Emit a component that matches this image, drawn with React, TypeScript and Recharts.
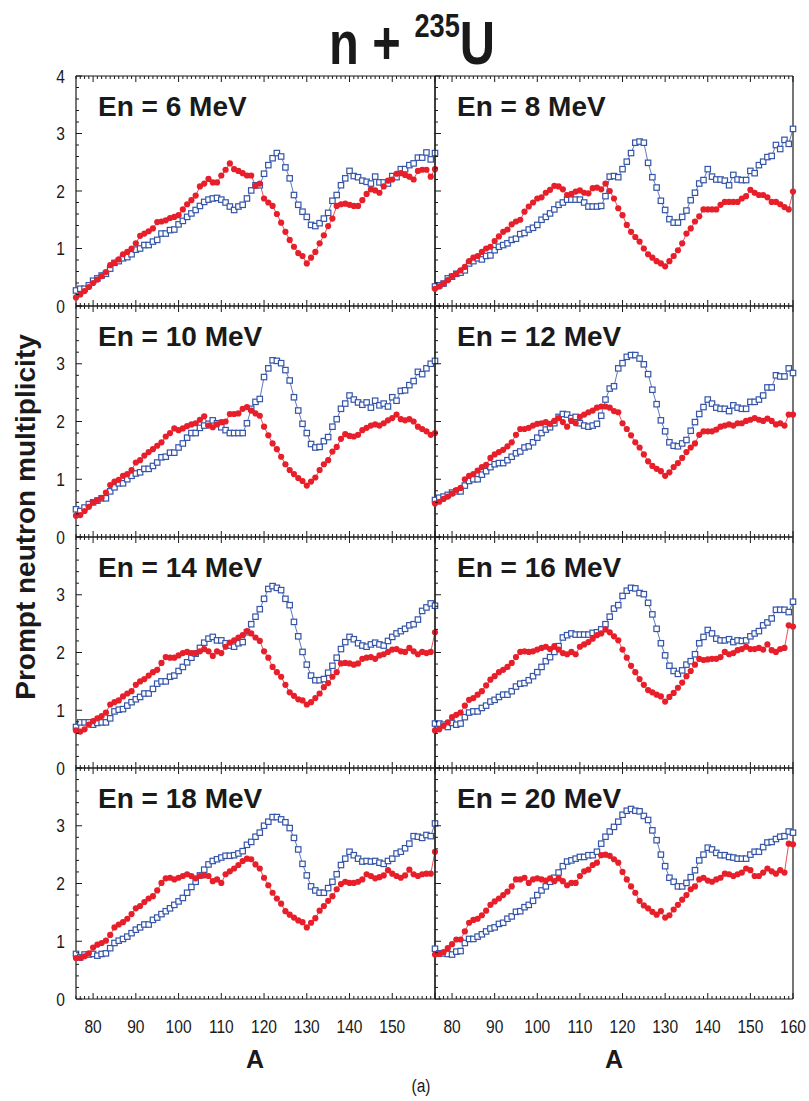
import React from 'react'
import { LineChart, Line, XAxis, YAxis } from 'recharts'

// mass number A, one point per nucleus
const massA = [
  76, 77, 78, 79, 80, 81, 82, 83, 84, 85, 86, 87, 88, 89, 90, 91, 92, 93, 94, 95,
  96, 97, 98, 99, 100, 101, 102, 103, 104, 105, 106, 107, 108, 109, 110, 111, 112, 113, 114, 115,
  116, 117, 118, 119, 120, 121, 122, 123, 124, 125, 126, 127, 128, 129, 130, 131, 132, 133, 134, 135,
  136, 137, 138, 139, 140, 141, 142, 143, 144, 145, 146, 147, 148, 149, 150, 151, 152, 153, 154, 155,
  156, 157, 158, 159, 160,
]

const red6 = [
  0.15, 0.2, 0.26, 0.33, 0.4, 0.46, 0.52, 0.59, 0.71, 0.75, 0.81, 0.9, 0.94, 1.0, 1.09, 1.22, 1.26, 1.3, 1.35, 1.46,
  1.47, 1.49, 1.53, 1.55, 1.58, 1.68, 1.77, 1.84, 1.92, 2.08, 2.13, 2.21, 2.15, 2.15, 2.27, 2.37, 2.48, 2.38, 2.35, 2.31,
  2.27, 2.27, 2.09, 2.13, 1.87, 1.8, 1.74, 1.6, 1.45, 1.29, 1.15, 1.03, 0.92, 0.87, 0.74, 0.84, 0.94, 1.09, 1.23, 1.39,
  1.52, 1.74, 1.77, 1.78, 1.76, 1.74, 1.74, 1.84, 1.95, 2.03, 2.01, 1.97, 2.08, 2.18, 2.2, 2.3, 2.31, 2.28, 2.25, 2.2,
  2.35, 2.37, 2.37, 2.25, 2.38,
]
const blue6 = [
  0.27, 0.3, 0.3, 0.36, 0.44, 0.48, 0.53, 0.56, 0.65, 0.75, 0.78, 0.83, 0.85, 0.9, 0.98, 1.0, 1.06, 1.06, 1.12, 1.15,
  1.26, 1.26, 1.32, 1.33, 1.42, 1.48, 1.55, 1.61, 1.67, 1.74, 1.81, 1.85, 1.87, 1.88, 1.85, 1.8, 1.73, 1.67, 1.73, 1.76,
  1.87, 2.01, 2.1, 2.1, 2.3, 2.45, 2.57, 2.66, 2.6, 2.41, 2.22, 1.93, 1.76, 1.64, 1.55, 1.41, 1.39, 1.44, 1.52, 1.62,
  1.83, 1.93, 2.1, 2.22, 2.35, 2.26, 2.24, 2.18, 2.16, 2.13, 2.25, 2.15, 2.15, 2.13, 2.26, 2.24, 2.38, 2.38, 2.45, 2.48,
  2.58, 2.58, 2.67, 2.55, 2.66,
]
const red8 = [
  0.3, 0.34, 0.39, 0.45, 0.52, 0.56, 0.62, 0.68, 0.78, 0.84, 0.87, 0.94, 1.0, 1.03, 1.13, 1.21, 1.29, 1.33, 1.42, 1.47,
  1.5, 1.64, 1.73, 1.8, 1.87, 1.89, 1.97, 2.02, 2.09, 2.08, 2.03, 1.93, 1.95, 1.99, 2.01, 1.97, 1.96, 2.05, 2.06, 2.03,
  2.13, 2.0, 1.87, 1.7, 1.58, 1.41, 1.29, 1.2, 1.12, 1.0, 0.9, 0.84, 0.78, 0.74, 0.69, 0.78, 0.87, 0.97, 1.09, 1.26,
  1.35, 1.47, 1.56, 1.68, 1.68, 1.68, 1.68, 1.76, 1.81, 1.81, 1.81, 1.81, 1.87, 1.91, 2.02, 1.97, 1.93, 1.93, 1.89, 1.81,
  1.81, 1.77, 1.72, 1.68, 1.99,
]
const blue8 = [
  0.34, 0.36, 0.39, 0.48, 0.51, 0.56, 0.58, 0.62, 0.74, 0.78, 0.83, 0.81, 0.87, 0.88, 0.97, 1.03, 1.06, 1.09, 1.15, 1.17,
  1.25, 1.27, 1.33, 1.36, 1.41, 1.5, 1.55, 1.61, 1.68, 1.76, 1.8, 1.85, 1.85, 1.85, 1.85, 1.8, 1.73, 1.73, 1.73, 1.74,
  1.91, 2.25, 2.26, 2.24, 2.38, 2.51, 2.66, 2.84, 2.86, 2.84, 2.49, 2.24, 2.06, 1.83, 1.67, 1.51, 1.45, 1.45, 1.55, 1.66,
  1.84, 1.97, 2.13, 2.19, 2.38, 2.25, 2.2, 2.2, 2.18, 2.1, 2.28, 2.2, 2.19, 2.19, 2.35, 2.31, 2.45, 2.51, 2.59, 2.61,
  2.8, 2.73, 2.89, 2.82, 3.08,
]
const red10 = [
  0.37, 0.38, 0.45, 0.52, 0.6, 0.64, 0.68, 0.77, 0.9, 0.96, 0.99, 1.06, 1.09, 1.16, 1.29, 1.33, 1.41, 1.47, 1.52, 1.58,
  1.64, 1.74, 1.8, 1.88, 1.85, 1.88, 1.92, 1.95, 1.97, 2.03, 2.09, 1.93, 1.9, 1.95, 1.99, 2.0, 2.13, 2.13, 2.14, 2.22,
  2.25, 2.19, 2.14, 2.1, 1.91, 1.76, 1.62, 1.52, 1.39, 1.26, 1.16, 1.09, 1.02, 0.97, 0.89, 0.96, 1.03, 1.16, 1.26, 1.33,
  1.48, 1.56, 1.7, 1.78, 1.75, 1.74, 1.77, 1.85, 1.89, 1.93, 1.95, 1.93, 1.97, 2.02, 2.06, 2.12, 2.04, 2.02, 2.04, 2.0,
  1.91, 1.87, 1.83, 1.77, 1.8,
]
const blue10 = [
  0.48, 0.45, 0.51, 0.57, 0.6, 0.63, 0.67, 0.67, 0.79, 0.86, 0.93, 0.93, 1.0, 1.06, 1.1, 1.12, 1.18, 1.18, 1.23, 1.29,
  1.38, 1.39, 1.46, 1.46, 1.55, 1.62, 1.72, 1.8, 1.8, 1.89, 1.93, 1.96, 2.02, 1.97, 1.9, 1.85, 1.8, 1.8, 1.8, 1.8,
  1.97, 2.22, 2.34, 2.39, 2.77, 2.92, 3.06, 3.05, 3.01, 2.89, 2.71, 2.42, 2.19, 1.96, 1.8, 1.61, 1.55, 1.56, 1.66, 1.73,
  1.91, 2.04, 2.22, 2.31, 2.45, 2.38, 2.33, 2.29, 2.33, 2.24, 2.36, 2.28, 2.31, 2.26, 2.42, 2.36, 2.53, 2.54, 2.63, 2.7,
  2.86, 2.82, 2.92, 3.0, 3.05,
]
const red12 = [
  0.58, 0.61, 0.66, 0.7, 0.75, 0.81, 0.85, 1.0, 1.06, 1.09, 1.15, 1.21, 1.25, 1.37, 1.43, 1.47, 1.51, 1.57, 1.64, 1.77,
  1.87, 1.87, 1.89, 1.93, 1.96, 1.97, 1.99, 1.96, 2.01, 2.06, 1.99, 1.91, 2.01, 1.97, 2.08, 2.12, 2.16, 2.19, 2.24, 2.26,
  2.26, 2.24, 2.18, 2.16, 1.97, 1.87, 1.76, 1.64, 1.55, 1.43, 1.31, 1.23, 1.18, 1.14, 1.06, 1.12, 1.21, 1.28, 1.37, 1.47,
  1.55, 1.62, 1.77, 1.83, 1.83, 1.83, 1.86, 1.91, 1.93, 1.95, 1.93, 1.97, 1.97, 2.01, 2.03, 2.06, 2.03, 2.01, 2.05, 2.01,
  1.95, 1.97, 1.93, 2.12, 2.12,
]
const blue12 = [
  0.64, 0.68, 0.7, 0.73, 0.77, 0.79, 0.79, 0.89, 0.97, 1.0, 1.0, 1.08, 1.14, 1.21, 1.26, 1.28, 1.28, 1.33, 1.39, 1.45,
  1.48, 1.55, 1.57, 1.64, 1.72, 1.8, 1.86, 1.9, 1.97, 2.08, 2.13, 2.12, 2.06, 2.08, 1.97, 1.93, 1.91, 1.93, 1.96, 2.1,
  2.38, 2.57, 2.61, 2.92, 3.01, 3.12, 3.15, 3.15, 3.09, 2.99, 2.82, 2.55, 2.3, 2.02, 1.83, 1.64, 1.58, 1.57, 1.62, 1.68,
  1.84, 1.99, 2.13, 2.25, 2.38, 2.31, 2.24, 2.22, 2.22, 2.18, 2.28, 2.24, 2.22, 2.22, 2.34, 2.34, 2.38, 2.45, 2.59, 2.59,
  2.8, 2.78, 2.78, 2.92, 2.84,
]
const red14 = [
  0.65, 0.63, 0.67, 0.75, 0.81, 0.86, 0.9, 0.96, 1.1, 1.14, 1.17, 1.24, 1.29, 1.33, 1.44, 1.5, 1.54, 1.6, 1.66, 1.7,
  1.82, 1.92, 1.91, 1.91, 1.95, 1.99, 2.01, 1.99, 1.99, 2.02, 2.06, 2.02, 1.94, 2.02, 1.99, 2.1, 2.17, 2.21, 2.26, 2.3,
  2.37, 2.33, 2.26, 2.2, 2.02, 1.91, 1.75, 1.66, 1.58, 1.44, 1.31, 1.25, 1.19, 1.17, 1.1, 1.14, 1.21, 1.29, 1.4, 1.47,
  1.58, 1.66, 1.81, 1.82, 1.81, 1.79, 1.81, 1.89, 1.91, 1.92, 1.89, 1.95, 1.97, 2.01, 2.05, 2.06, 2.02, 2.01, 2.08, 2.02,
  1.97, 2.01, 1.99, 2.01, 2.35,
]
const blue14 = [
  0.71, 0.79, 0.79, 0.79, 0.75, 0.78, 0.79, 0.79, 0.86, 0.98, 1.01, 1.02, 1.08, 1.14, 1.19, 1.23, 1.29, 1.29, 1.37, 1.46,
  1.5, 1.5, 1.58, 1.6, 1.68, 1.75, 1.83, 1.91, 1.98, 2.08, 2.17, 2.24, 2.27, 2.21, 2.21, 2.16, 2.12, 2.1, 2.16, 2.18,
  2.35, 2.49, 2.62, 2.75, 2.93, 3.1, 3.15, 3.12, 3.08, 2.93, 2.82, 2.53, 2.28, 2.01, 1.79, 1.6, 1.52, 1.52, 1.54, 1.65,
  1.77, 1.91, 2.06, 2.18, 2.27, 2.23, 2.16, 2.12, 2.1, 2.14, 2.17, 2.14, 2.12, 2.2, 2.27, 2.33, 2.37, 2.41, 2.47, 2.49,
  2.57, 2.72, 2.78, 2.85, 2.81,
]
const red16 = [
  0.65, 0.67, 0.73, 0.79, 0.88, 0.92, 0.96, 1.08, 1.18, 1.21, 1.27, 1.33, 1.43, 1.53, 1.59, 1.66, 1.7, 1.75, 1.82, 1.92,
  2.01, 2.02, 2.01, 2.02, 2.05, 2.08, 2.1, 2.06, 2.11, 2.05, 1.99, 1.97, 2.01, 1.97, 2.1, 2.14, 2.18, 2.24, 2.3, 2.33,
  2.4, 2.35, 2.28, 2.21, 2.05, 1.91, 1.77, 1.66, 1.54, 1.44, 1.35, 1.31, 1.27, 1.24, 1.15, 1.23, 1.3, 1.39, 1.48, 1.59,
  1.68, 1.79, 1.89, 1.87, 1.88, 1.89, 1.89, 1.92, 2.01, 1.97, 1.99, 2.04, 2.06, 2.1, 2.06, 2.06, 2.08, 2.05, 2.14, 2.04,
  2.01, 2.06, 2.08, 2.47, 2.45,
]
const blue16 = [
  0.77, 0.77, 0.75, 0.71, 0.78, 0.75, 0.77, 0.88, 0.96, 0.98, 0.98, 1.04, 1.08, 1.15, 1.18, 1.23, 1.27, 1.27, 1.33, 1.41,
  1.46, 1.47, 1.52, 1.59, 1.66, 1.75, 1.85, 1.92, 2.01, 2.11, 2.26, 2.3, 2.33, 2.31, 2.31, 2.31, 2.31, 2.34, 2.35, 2.4,
  2.49, 2.62, 2.76, 2.82, 2.98, 3.07, 3.12, 3.11, 3.03, 3.01, 2.86, 2.66, 2.41, 2.16, 1.95, 1.77, 1.68, 1.63, 1.69, 1.79,
  1.85, 1.97, 2.16, 2.27, 2.39, 2.33, 2.24, 2.21, 2.21, 2.23, 2.18, 2.21, 2.2, 2.21, 2.28, 2.33, 2.37, 2.47, 2.52, 2.59,
  2.74, 2.74, 2.74, 2.7, 2.88,
]
const red18 = [
  0.71, 0.71, 0.74, 0.79, 0.89, 0.94, 0.97, 1.01, 1.11, 1.24, 1.29, 1.33, 1.39, 1.47, 1.57, 1.61, 1.68, 1.74, 1.78, 1.88,
  2.01, 2.09, 2.1, 2.07, 2.1, 2.13, 2.16, 2.13, 2.09, 2.13, 2.14, 2.13, 2.04, 2.07, 2.01, 2.16, 2.21, 2.26, 2.32, 2.39,
  2.43, 2.42, 2.33, 2.26, 2.1, 1.97, 1.84, 1.74, 1.65, 1.52, 1.46, 1.41, 1.36, 1.33, 1.24, 1.32, 1.4, 1.53, 1.61, 1.7,
  1.78, 1.9, 1.99, 2.03, 2.01, 2.01, 2.03, 2.07, 2.16, 2.13, 2.09, 2.11, 2.14, 2.23, 2.17, 2.13, 2.1, 2.14, 2.24, 2.16,
  2.13, 2.16, 2.17, 2.17, 2.55,
]
const blue18 = [
  0.78, 0.72, 0.77, 0.77, 0.78, 0.75, 0.78, 0.79, 0.88, 0.97, 1.01, 1.04, 1.08, 1.14, 1.2, 1.24, 1.29, 1.29, 1.37, 1.41,
  1.47, 1.52, 1.57, 1.63, 1.69, 1.75, 1.84, 1.94, 2.03, 2.14, 2.24, 2.33, 2.39, 2.42, 2.45, 2.48, 2.48, 2.49, 2.52, 2.56,
  2.67, 2.72, 2.81, 2.88, 3.0, 3.07, 3.15, 3.15, 3.11, 3.06, 2.96, 2.79, 2.59, 2.34, 2.14, 1.95, 1.88, 1.84, 1.84, 1.92,
  2.03, 2.16, 2.32, 2.43, 2.55, 2.49, 2.43, 2.38, 2.39, 2.38, 2.39, 2.36, 2.34, 2.39, 2.43, 2.52, 2.55, 2.61, 2.69, 2.82,
  2.81, 2.79, 2.84, 2.82, 3.04,
]
const red20 = [
  0.77, 0.78, 0.81, 0.88, 0.95, 1.03, 1.03, 1.17, 1.32, 1.37, 1.39, 1.45, 1.53, 1.63, 1.69, 1.74, 1.8, 1.86, 1.95, 2.07,
  2.07, 2.1, 2.01, 2.07, 2.09, 2.07, 2.05, 2.09, 2.04, 2.09, 2.04, 1.97, 2.01, 2.01, 2.13, 2.21, 2.24, 2.32, 2.36, 2.49,
  2.5, 2.48, 2.42, 2.36, 2.2, 2.07, 1.95, 1.84, 1.7, 1.62, 1.57, 1.51, 1.46, 1.52, 1.41, 1.45, 1.55, 1.63, 1.72, 1.8,
  1.9, 1.95, 2.07, 2.1, 2.05, 2.03, 2.07, 2.1, 2.17, 2.16, 2.13, 2.16, 2.19, 2.26, 2.23, 2.13, 2.13, 2.19, 2.26, 2.21,
  2.17, 2.23, 2.19, 2.69, 2.68,
]
const blue20 = [
  0.87, 0.79, 0.79, 0.78, 0.77, 0.82, 0.83, 0.97, 1.04, 1.04, 1.08, 1.12, 1.17, 1.22, 1.24, 1.3, 1.32, 1.39, 1.43, 1.51,
  1.52, 1.59, 1.63, 1.7, 1.8, 1.88, 1.95, 2.03, 2.1, 2.19, 2.3, 2.38, 2.4, 2.43, 2.46, 2.46, 2.49, 2.49, 2.55, 2.69,
  2.81, 2.9, 2.98, 3.07, 3.19, 3.26, 3.29, 3.26, 3.25, 3.17, 3.1, 2.92, 2.75, 2.5, 2.3, 2.1, 2.03, 1.95, 1.95, 2.01,
  2.11, 2.23, 2.4, 2.5, 2.62, 2.59, 2.53, 2.49, 2.49, 2.46, 2.45, 2.43, 2.43, 2.43, 2.5, 2.55, 2.55, 2.63, 2.71, 2.72,
  2.77, 2.81, 2.82, 2.9, 2.88,
]

const energies = ['6', '8', '10', '12', '14', '16', '18', '20']
const redSeries = [red6, red8, red10, red12, red14, red16, red18, red20]
const blueSeries = [blue6, blue8, blue10, blue12, blue14, blue16, blue18, blue20]

const xLabelsLeft = [80, 90, 100, 110, 120, 130, 140, 150]
const xLabelsRight = [80, 90, 100, 110, 120, 130, 140, 150, 160]
const yLabelsTop = [0, 1, 2, 3, 4]
const yLabelsOther = [0, 1, 2, 3]

const BLUE = '#3354a8'
const RED = '#e61f2a'
const INK = '#1a1a1a'
const SANS = "'Liberation Sans', Arial, Helvetica, sans-serif"
const NARROW_SCALE = 0.82

// panel geometry (plot area in page pixels)
const colX = [76, 435]
const colW = [359, 358]
const rowY = [76, 306, 537, 768]
const rowH = [230, 231, 231, 231]

const xTickPos: number[] = []
for (let a = 76; a <= 160; a++) xTickPos.push(a)
const yTickPos: number[] = []
for (let i = 0; i <= 20; i++) yTickPos.push(i / 5)

const isMajorY = (v: number) => Math.abs(v - Math.round(v)) < 1e-6

// narrow (Arial Narrow-like) label: regular sans squeezed horizontally
function NarrowText({ x, y, anchor, size, children }: any) {
  return (
    <text
      transform={`translate(${x},${y}) scale(${NARROW_SCALE},1)`}
      textAnchor={anchor}
      fontFamily={SANS}
      fontSize={size}
      fill={INK}
    >
      {children}
    </text>
  )
}

function Panel({ idx }: { idx: number }) {
  const row = Math.floor(idx / 2)
  const col = idx % 2
  // axes are 1px thick, so margins are 1px less than the wanted gap
  const ml = col === 0 ? 49 : 7
  const mr = col === 1 ? 15 : 7
  const mt = 14
  const mb = row === 3 ? 44 : 14
  const w = colW[col] + ml + mr + 2
  const h = rowH[row] + mt + mb + 2
  const data = massA.map((a, i) => ({ A: a, red: redSeries[idx][i], blue: blueSeries[idx][i] }))
  const xLabels = row === 3 ? (col === 0 ? xLabelsLeft : xLabelsRight) : []
  const yLabels = col === 0 ? (row === 0 ? yLabelsTop : yLabelsOther) : []

  const bottomTick = (p: any) => {
    const v = p.payload.value
    const major = v % 10 === 0
    return (
      <g key={`xb${v}`}>
        <line x1={p.x} x2={p.x} y1={p.y} y2={p.y - (major ? 6 : 3)} stroke={INK} strokeWidth={1} />
        {xLabels.includes(v) && <NarrowText x={p.x} y={p.y + 34} anchor="middle" size={19}>{v}</NarrowText>}
      </g>
    )
  }
  const topTick = (p: any) => {
    const v = p.payload.value
    const major = v % 10 === 0
    return <line key={`xt${v}`} x1={p.x} x2={p.x} y1={p.y} y2={p.y + (major ? 6 : 3)} stroke={INK} strokeWidth={1} />
  }
  const leftTick = (p: any) => {
    const v = p.payload.value
    const major = isMajorY(v)
    const lab = yLabels.find((l) => Math.abs(l - v) < 1e-6)
    return (
      <g key={`yl${v}`}>
        <line x1={p.x} x2={p.x + (major ? 6 : 3)} y1={p.y} y2={p.y} stroke={INK} strokeWidth={1} />
        {lab !== undefined && <NarrowText x={p.x - 11} y={p.y + 6.5} anchor="end" size={19}>{lab}</NarrowText>}
      </g>
    )
  }
  const rightTick = (p: any) => {
    const v = p.payload.value
    const major = isMajorY(v)
    return <line key={`yr${v}`} x1={p.x} x2={p.x - (major ? 6 : 3)} y1={p.y} y2={p.y} stroke={INK} strokeWidth={1} />
  }

  const square = (p: any) => (
    <rect
      key={`s${p.index}`}
      x={p.cx - 2.7}
      y={p.cy - 2.7}
      width={5.4}
      height={5.4}
      fill="#fff"
      stroke={BLUE}
      strokeWidth={1.2}
    />
  )
  const circle = (p: any) => <circle key={`c${p.index}`} cx={p.cx} cy={p.cy} r={3.1} fill={RED} />

  const axisLine = { stroke: INK, strokeWidth: 1.2 }
  const common = { type: 'number' as const, interval: 0, tickSize: 0, tickMargin: 0, tickLine: false, axisLine }

  return (
    <div style={{ position: 'absolute', left: colX[col] - ml - 1, top: rowY[row] - mt - 1 }}>
      <LineChart width={w} height={h} data={data} margin={{ top: mt, right: mr, bottom: mb, left: ml }}>
        <XAxis {...common} dataKey="A" domain={[76, 160]} ticks={xTickPos} height={1} tick={bottomTick} />
        <XAxis
          {...common}
          xAxisId="top"
          orientation="top"
          dataKey="A"
          domain={[76, 160]}
          ticks={xTickPos}
          height={1}
          tick={topTick}
        />
        <YAxis {...common} domain={[0, 4]} ticks={yTickPos} width={1} tick={leftTick} />
        <YAxis
          {...common}
          yAxisId="right"
          orientation="right"
          domain={[0, 4]}
          ticks={yTickPos}
          width={1}
          tick={rightTick}
        />
        <Line
          type="linear"
          dataKey="blue"
          stroke={BLUE}
          strokeWidth={0.8}
          dot={square}
          activeDot={false}
          isAnimationActive={false}
        />
        <Line
          type="linear"
          dataKey="red"
          stroke={RED}
          strokeWidth={0.8}
          dot={circle}
          activeDot={false}
          isAnimationActive={false}
        />
      </LineChart>
    </div>
  )
}

export default function App() {
  return (
    <div style={{ position: 'absolute', left: 0, top: 0, width: 809, height: 1101, background: '#fff', overflow: 'hidden' }}>
      <svg width={809} height={1101} style={{ position: 'absolute', left: 0, top: 0 }}>
        <text
          transform="translate(412,64) scale(0.8,1)"
          textAnchor="middle"
          fontFamily={SANS}
          fontWeight="bold"
          fontSize={61}
          fill={INK}
        >
          n +{' '}
          <tspan dy={-27} fontSize={34}>
            235
          </tspan>
          <tspan dy={27}>U</tspan>
        </text>
        <text
          transform="translate(35,517) rotate(-90)"
          textAnchor="middle"
          fontFamily={SANS}
          fontWeight="bold"
          fontSize={28}
          fill={INK}
        >
          Prompt neutron multiplicity
        </text>
        {energies.map((e, i) => {
          const row = Math.floor(i / 2)
          const col = i % 2
          return (
            <text
              key={e}
              x={colX[col] + 22}
              y={rowY[row] + 40}
              fontFamily={SANS}
              fontWeight="bold"
              fontSize={28}
              fill={INK}
            >
              En = {e} MeV
            </text>
          )
        })}
        <text x={255} y={1068} textAnchor="middle" fontFamily={SANS} fontWeight="bold" fontSize={25} fill={INK}>
          A
        </text>
        <text x={614} y={1068} textAnchor="middle" fontFamily={SANS} fontWeight="bold" fontSize={25} fill={INK}>
          A
        </text>
        <NarrowText x={421} y={1092} anchor="middle" size={19}>
          (a)
        </NarrowText>
      </svg>
      {energies.map((e, i) => (
        <Panel key={e} idx={i} />
      ))}
    </div>
  )
}
